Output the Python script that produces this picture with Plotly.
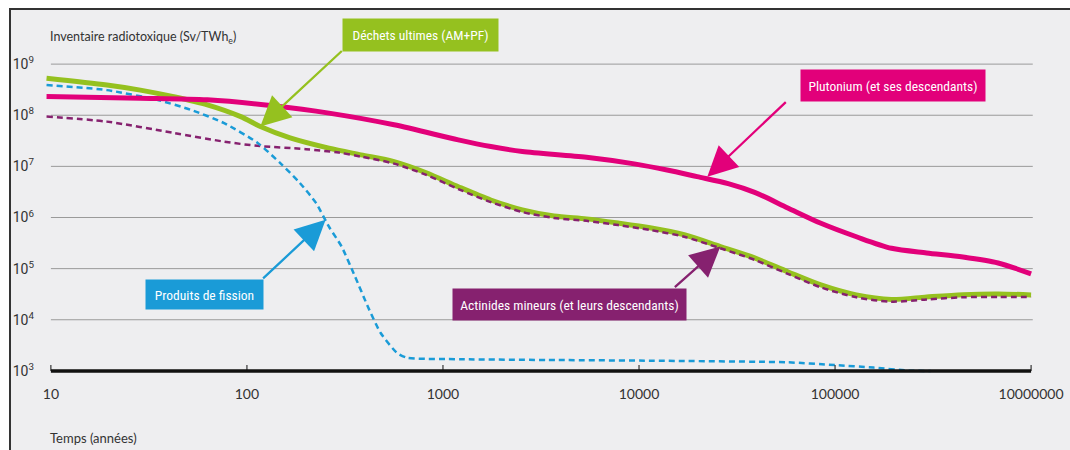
import math
import plotly.graph_objects as go

# Time (years) and radiotoxic inventory (Sv/TWhe)
t_dechets = [9.5, 19.3, 28.6, 42.3, 62.8, 93, 117, 166, 262, 382, 563, 822, 1197, 1754, 2541,
             3683, 5395, 7816, 11380, 17020, 26000, 38900, 57400, 84700, 128500, 194000,
             293000, 449000, 679000, 1000000]
v_dechets = [5.3e8, 3.9e8, 3.1e8, 2.3e8, 1.6e8, 9.4e7, 6.0e7, 3.6e7, 2.27e7, 1.68e7, 1.24e7,
             7.5e6, 4.0e6, 2.2e6, 1.41e6, 1.07e6, 9.4e5, 7.8e5, 6.3e5, 4.6e5, 2.7e5, 1.62e5,
             8.7e4, 4.8e4, 3.06e4, 2.5e4, 2.8e4, 3.1e4, 3.2e4, 3.06e4]

t_am = [9.5, 19.3, 42.3, 76, 113, 200, 294, 382, 563, 822, 1197, 1754, 2541, 3683, 5395,
        7816, 11380, 17020, 26000, 38900, 57400, 84700, 128500, 194000, 293000, 449000,
        679000, 1000000]
v_am = [9.4e7, 7.5e7, 4.5e7, 3.06e7, 2.52e7, 2.17e7, 1.86e7, 1.55e7, 1.13e7, 6.8e6, 3.6e6,
        2.0e6, 1.28e6, 9.8e5, 8.6e5, 7.1e5, 5.7e5, 4.2e5, 2.5e5, 1.48e5, 7.9e4, 4.3e4,
        2.75e4, 2.26e4, 2.5e4, 2.75e4, 2.8e4, 2.8e4]

t_pu = [9.5, 28.6, 62.8, 136, 262, 563, 1197, 1754, 2541, 5395, 9460, 13900, 19800, 28500,
        38900, 57400, 84700, 128500, 194000, 293000, 449000, 679000, 1000000]
v_pu = [2.32e8, 2.16e8, 2.0e8, 1.53e8, 1.1e8, 6.5e7, 3.3e7, 2.44e7, 1.95e7, 1.51e7, 1.12e7,
        8.5e6, 6.3e6, 4.6e6, 3.1e6, 1.54e6, 7.7e5, 4.2e5, 2.5e5, 2.03e5, 1.69e5, 1.29e5, 7.9e4]

t_pf = [9.5, 19.3, 34.8, 51.6, 76, 113, 147.5, 186, 225, 262, 304, 356, 414, 481, 583, 655,
        1250, 3850, 11900, 57400, 100000, 157000, 240000, 308000]
v_pf = [3.9e8, 3.1e8, 2.0e8, 1.28e8, 7.1e7, 2.9e7, 1.17e7, 4.75e6, 1.93e6, 6.6e5, 2.7e5,
        7.0e4, 1.8e4, 5.5e3, 2.24e3, 1.81e3, 1.69e3, 1.63e3, 1.58e3, 1.47e3, 1.30e3, 1.16e3,
        1.01e3, 1.0e3]

x_ticks = [10, 100, 1000, 10000, 100000, 1000000]
x_ticktext = ["10", "100", "1000", "10000", "100000", "10000000"]
y_ticks = [1e3, 1e4, 1e5, 1e6, 1e7, 1e8, 1e9]
y_ticktext = ["10<sup>%d</sup>" % p for p in range(3, 10)]

GREEN = "#95c11f"
MAGENTA = "#e2007a"
PURPLE = "#86216f"
BLUE = "#1a9bd7"
BG = "#eeeef0"
NARROW = "Roboto Condensed, DejaVu Sans Condensed, Roboto, sans-serif"
BOOK = "Lato, Open Sans, sans-serif"

W, H = 1070, 450
ML, MR, MT, MB = 45, 35, 59, 74


def px(x):
    return (x - ML) / (W - ML - MR)


def py(y):
    return (H - MB - y) / (H - MT - MB)


fig = go.Figure()

fig.add_trace(go.Scatter(x=t_dechets, y=v_dechets, mode="lines", name="Déchets ultimes",
                         line=dict(color=GREEN, width=5, shape="spline", smoothing=0.8)))
fig.add_trace(go.Scatter(x=t_am, y=v_am, mode="lines", name="Actinides mineurs",
                         line=dict(color=PURPLE, width=2.5, dash="6px,4px", shape="spline", smoothing=0.8)))
fig.add_trace(go.Scatter(x=t_pf, y=v_pf, mode="lines", name="Produits de fission",
                         line=dict(color=BLUE, width=2.5, dash="6px,4px", shape="spline", smoothing=0.6)))
fig.add_trace(go.Scatter(x=t_pu, y=v_pu, mode="lines", name="Plutonium",
                         line=dict(color=MAGENTA, width=5, shape="spline", smoothing=0.8)))

shapes = [
    # page frame
    dict(type="rect", xref="paper", yref="paper", x0=px(10), x1=px(1080), y0=py(460), y1=py(9),
         fillcolor=BG, line=dict(color="#333333", width=2), layer="below"),
]
# grid lines
for v in y_ticks[1:]:
    shapes.append(dict(type="line", xref="x", yref="y", x0=10, x1=1.02e6, y0=v, y1=v,
                       line=dict(color="#9a9a9a", width=1), layer="below"))
# thick baseline and small tick marks
shapes.append(dict(type="line", xref="x", yref="y", x0=10, x1=1e6, y0=1e3, y1=1e3,
                   line=dict(color="#111111", width=3.5)))
for t in x_ticks:
    shapes.append(dict(type="line", xref="x", yref="paper", x0=t, x1=t, y0=py(371), y1=py(365),
                       line=dict(color="#111111", width=1)))

annotations = [
    dict(text="Inventaire radiotoxique (Sv/TWh<sub>e</sub>)", xref="paper", yref="paper",
         x=px(48), y=py(38), xanchor="left", yanchor="middle", showarrow=False,
         font=dict(family=BOOK, size=12.5, color="#333333")),
    dict(text="Temps (années)", xref="paper", yref="paper",
         x=px(48), y=py(438), xanchor="left", yanchor="middle", showarrow=False,
         font=dict(family=BOOK, size=13, color="#333333")),
]

labels = [
    ("Déchets ultimes (AM+PF)", GREEN, 420.5, 35, 155, 32),
    ("Plutonium (et ses descendants)", MAGENTA, 893, 85, 184, 31),
    ("Produits de fission", BLUE, 204.5, 294, 117, 29),
    ("Actinides mineurs (et leurs descendants)", PURPLE, 569, 304.5, 233, 31),
]
for text, color, cx, cy, w, h in labels:
    annotations.append(dict(text=text, xref="paper", yref="paper", x=px(cx), y=py(cy),
                            xanchor="center", yanchor="middle", showarrow=False,
                            width=w, height=h, borderpad=0, bgcolor=color,
                            font=dict(family=NARROW, size=13.5, color="white")))

arrows = [
    (117, 6.0e7, 83, -77, GREEN),
    (22300, 6.3e6, 80, -76, MAGENTA),
    (252, 9.0e5, -64, 60, BLUE),
    (26000, 2.7e5, -47, 42, PURPLE),
]
for t, v, ax, ay, color in arrows:
    annotations.append(dict(text="", x=math.log10(t), y=math.log10(v), xref="x", yref="y",
                            ax=ax, ay=ay, showarrow=True, arrowhead=2, arrowsize=2.6,
                            arrowwidth=2.3, arrowcolor=color, standoff=0))

fig.update_layout(
    width=W, height=H,
    margin=dict(l=ML, r=MR, t=MT, b=MB, autoexpand=False),
    paper_bgcolor="white",
    plot_bgcolor="rgba(0,0,0,0)",
    showlegend=False,
    shapes=shapes,
    annotations=annotations,
    xaxis=dict(type="log", range=[math.log10(9.33), math.log10(1.047e6)],
               tickvals=x_ticks, ticktext=x_ticktext, showgrid=False, zeroline=False,
               showline=False, ticks="", ticklabelstandoff=8, automargin=False,
               tickfont=dict(family=BOOK, size=14, color="#333333")),
    yaxis=dict(type="log", range=[2.9, 9.1], tickvals=y_ticks, ticktext=y_ticktext,
               showgrid=False, zeroline=False, showline=False, ticks="",
               ticklabelstandoff=10, automargin=False,
               tickfont=dict(family="Roboto, sans-serif", size=14, color="#333333")),
)

fig.write_html("out.html", config={"displayModeBar": False},
               post_script="document.body.style.margin='0';document.body.style.overflow='hidden';")
